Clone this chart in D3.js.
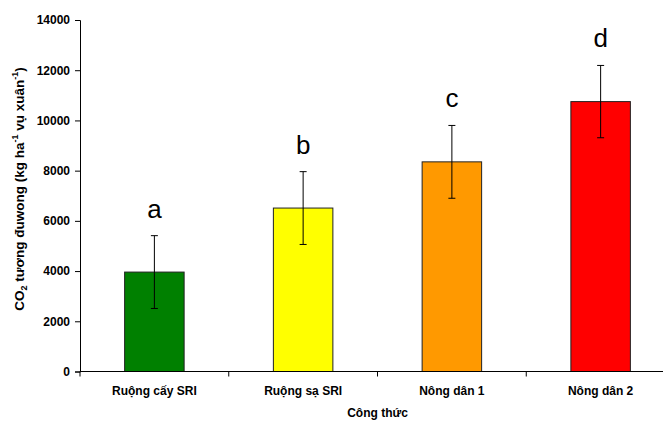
<!DOCTYPE html>
<html>
<head>
<meta charset="utf-8">
<script src="https://cdn.jsdelivr.net/npm/d3@7"></script>
<style>
  body { margin: 0; background: #fff; }
  svg { display: block; font-family: "Liberation Sans", Arial, sans-serif; }
</style>
</head>
<body>
<div id="chart"></div>
<script>
// data
const categories = ["Ruộng cấy SRI", "Ruộng sạ SRI", "Nông dân 1", "Nông dân 2"];
const values = [3960, 6510, 8350, 10750];
const errors = [1450, 1450, 1450, 1440];
const letters = ["a", "b", "c", "d"];
const barColors = ["#008000", "#ffff00", "#ff9900", "#ff0000"];
const yTicks = [0, 2000, 4000, 6000, 8000, 10000, 12000, 14000];

const width = 663;
const height = 423;
const margin = { top: 20, right: -12, bottom: 51.5, left: 80 };

const svg = d3.select("#chart")
  .append("svg")
  .attr("width", width)
  .attr("height", height);

const x = d3.scaleBand()
  .domain(categories)
  .range([margin.left, width - margin.right])
  .paddingInner(0.6)
  .paddingOuter(0.3);

const y = d3.scaleLinear()
  .domain([0, 14000])
  .range([height - margin.bottom, margin.top]);

const rows = categories.map((c, i) => ({
  cat: c, value: values[i], err: errors[i], letter: letters[i], color: barColors[i]
}));

// ---------------------------
// Bars
// ---------------------------
svg.append("g")
  .selectAll("rect")
  .data(rows)
  .join("rect")
  .attr("x", d => x(d.cat))
  .attr("y", d => y(d.value))
  .attr("width", x.bandwidth())
  .attr("height", d => y(0) - y(d.value))
  .attr("fill", d => d.color)
  .attr("stroke", "#222")
  .attr("stroke-width", 1);

// ---------------------------
// Error bars
// ---------------------------
const eb = svg.append("g")
  .attr("stroke", "#000")
  .attr("stroke-width", 1)
  .selectAll("g")
  .data(rows)
  .join("g")
  .attr("transform", d => `translate(${x(d.cat) + x.bandwidth() / 2},0)`);

eb.append("line")
  .attr("y1", d => y(d.value - d.err))
  .attr("y2", d => y(d.value + d.err));
eb.append("line")
  .attr("x1", -3.5).attr("x2", 3.5)
  .attr("y1", d => y(d.value + d.err))
  .attr("y2", d => y(d.value + d.err));
eb.append("line")
  .attr("x1", -3.5).attr("x2", 3.5)
  .attr("y1", d => y(d.value - d.err))
  .attr("y2", d => y(d.value - d.err));

// significance letters
svg.append("g")
  .selectAll("text")
  .data(rows)
  .join("text")
  .attr("x", d => x(d.cat) + x.bandwidth() / 2)
  .attr("y", d => y(d.value + d.err) - 18)
  .attr("text-anchor", "middle")
  .attr("font-size", 26)
  .attr("fill", "#000")
  .text(d => d.letter);

// ---------------------------
// Axes
// ---------------------------
const yAxis = svg.append("g")
  .attr("transform", `translate(${margin.left},0)`)
  .call(d3.axisLeft(y).tickValues(yTicks).tickFormat(d3.format("d")).tickSize(5).tickPadding(5));

const xStep = x.step();
const bounds = d3.range(categories.length + 1).map(i => margin.left + i * xStep);

const xAxis = svg.append("g")
  .attr("transform", `translate(0,${y(0)})`)
  .call(d3.axisBottom(x).tickSize(0).tickPadding(15));

xAxis.selectAll(".bound")
  .data(bounds)
  .join("line")
  .attr("class", "bound")
  .attr("x1", d => d).attr("x2", d => d)
  .attr("y1", 0).attr("y2", 5)
  .attr("stroke", "#000");

[yAxis, xAxis].forEach(g => {
  g.select(".domain").attr("stroke", "#000");
  g.selectAll(".tick line").attr("stroke", "#000");
  g.selectAll("text")
    .attr("font-family", "Liberation Sans, Arial, sans-serif")
    .attr("font-size", 12)
    .attr("font-weight", "bold")
    .attr("fill", "#000");
});
xAxis.select(".domain").attr("d", `M${margin.left},0H${width - margin.right}`);

// axis titles
svg.append("text")
  .attr("x", (margin.left + width - margin.right) / 2)
  .attr("y", 417)
  .attr("text-anchor", "middle")
  .attr("font-size", 12)
  .attr("font-weight", "bold")
  .text("Công thức");

const yTitle = svg.append("text")
  .attr("transform", "translate(24,189) rotate(-90)")
  .attr("text-anchor", "middle")
  .attr("font-size", 13.5)
  .attr("font-weight", "bold");
yTitle.append("tspan").text("CO");
yTitle.append("tspan").attr("font-size", 9).attr("dy", 3).text("2");
yTitle.append("tspan").attr("dy", -3).text(" tương đuwong (kg ha");
yTitle.append("tspan").attr("font-size", 9).attr("dy", -6).text("-1");
yTitle.append("tspan").attr("dy", 6).text(" vụ xuân");
yTitle.append("tspan").attr("font-size", 9).attr("dy", -6).text("-1");
yTitle.append("tspan").attr("dy", 6).text(")");
</script>
</body>
</html>
